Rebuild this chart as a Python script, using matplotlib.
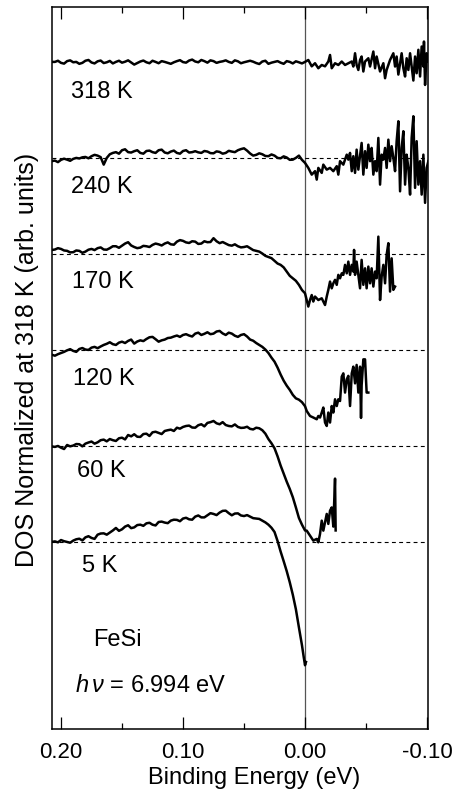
import matplotlib.pyplot as plt
import numpy as np

plt.rcParams['font.family'] = ['Liberation Sans', 'DejaVu Sans']
plt.rcParams['mathtext.fontset'] = 'custom'
plt.rcParams['mathtext.it'] = 'Liberation Sans:italic'
plt.rcParams['mathtext.rm'] = 'Liberation Sans'
plt.rcParams['axes.unicode_minus'] = False

# binding energy sampling (eV) for the smooth part of every spectrum
energy_left = [0.208, 0.205, 0.200, 0.195, 0.190, 0.185, 0.180, 0.175, 0.170, 0.165,
               0.160, 0.155, 0.150, 0.145, 0.140, 0.135, 0.130, 0.125, 0.120, 0.115,
               0.110, 0.105, 0.100, 0.095, 0.090, 0.085, 0.080, 0.075, 0.070, 0.065,
               0.060, 0.055, 0.050, 0.045, 0.040, 0.035, 0.030, 0.025, 0.020, 0.015,
               0.010, 0.005, 0.000]
energy_mid = [0.2025, 0.1975, 0.1925, 0.1875, 0.1825, 0.1775, 0.1725, 0.1675, 0.1625,
              0.1575, 0.1525, 0.1475, 0.1425, 0.1375, 0.1325, 0.1275, 0.1225, 0.1175,
              0.1125, 0.1075, 0.1025, 0.0975, 0.0925, 0.0875, 0.0825, 0.0775, 0.0725,
              0.0675, 0.0625, 0.0575, 0.0525, 0.0475, 0.0425, 0.0375, 0.0325, 0.0275,
              0.0225, 0.0175, 0.0125, 0.0075, 0.0025]

# DOS normalized at 318 K
dos_318_left = [1.000, 1.000, 0.995, 1.004, 0.998, 0.990, 1.006, 0.997, 1.003, 0.994,
                1.005, 1.000, 0.996, 1.008, 0.986, 1.002, 0.998, 1.006, 0.993, 1.000,
                0.990, 1.004, 0.999, 1.007, 1.002, 1.010, 0.996, 1.004, 1.000, 1.008,
                0.995, 1.003, 0.998, 1.006, 0.994, 1.002, 0.990, 1.000, 0.996, 1.004,
                0.992, 0.998, 1.000]
dos_318_mid = [1.006, 0.991, 1.008, 1.000, 0.995, 1.010, 0.992, 1.007, 0.998, 0.992,
               1.006, 1.001, 0.997, 0.994, 1.007, 0.993, 1.000, 1.004, 0.995, 0.998,
               1.009, 0.996, 1.012, 0.998, 1.004, 1.008, 0.995, 1.003, 1.000, 1.008,
               0.993, 1.002, 1.001, 0.989, 1.006, 0.996, 1.004, 0.990, 1.000, 1.003,
               0.992]
e_318_right = [-0.0027, -0.0055, -0.0082, -0.0109, -0.0137, -0.0164, -0.0191, -0.0205,
               -0.0219, -0.0246, -0.0273, -0.0301, -0.0328, -0.0355, -0.0383, -0.0396,
               -0.0410, -0.0423, -0.0437, -0.0451, -0.0464, -0.0478, -0.0492, -0.0519,
               -0.0533, -0.0560, -0.0574, -0.0587, -0.0615, -0.0642, -0.0656, -0.0669,
               -0.0697, -0.0724, -0.0738, -0.0751, -0.0765, -0.0779, -0.0792, -0.0806,
               -0.0820, -0.0833, -0.0847, -0.0861, -0.0888, -0.0902, -0.0915, -0.0929,
               -0.0943, -0.0956, -0.0970, -0.0975, -0.0984, -0.0997, -0.1011]
dos_318_right = [1.010, 0.977, 0.993, 0.967, 0.984, 0.977, 1.002, 1.036,
                 0.967, 0.993, 0.984, 1.002, 0.984, 0.993, 1.002, 0.976,
                 1.045, 0.984, 0.958, 1.010, 1.028, 0.950, 1.002, 1.019,
                 0.976, 1.054, 0.967, 1.028, 0.950, 0.993, 0.915, 0.958,
                 1.010, 1.045, 0.976, 1.028, 0.934, 0.993, 1.045, 0.967,
                 0.924, 1.019, 0.958, 1.045, 0.903, 1.028, 0.941, 1.063,
                 0.924, 1.080, 0.976, 1.106, 0.880, 1.045, 1.002]

dos_240_left = [0.983, 0.986, 0.990, 0.991, 0.995, 0.997, 1.005, 1.009, 1.012, 0.965,
                1.019, 1.030, 1.040, 1.030, 1.035, 1.026, 1.036, 1.030, 1.040, 1.028,
                1.033, 1.026, 1.036, 1.028, 1.035, 1.026, 1.033, 1.024, 1.031, 1.026,
                1.033, 1.040, 1.050, 1.023, 1.016, 1.019, 1.009, 1.012, 0.998, 1.002,
                0.991, 1.012, 0.974]
dos_240_mid = [0.978, 0.996, 0.985, 1.000, 1.003, 0.998, 1.016, 1.004, 1.000, 1.026,
               1.022, 1.045, 1.028, 1.040, 1.022, 1.038, 1.026, 1.043, 1.024, 1.038,
               1.022, 1.040, 1.030, 1.029, 1.036, 1.025, 1.034, 1.022, 1.037, 1.030,
               1.046, 1.038, 1.012, 1.024, 1.010, 1.018, 1.000, 1.008, 0.990, 1.000,
               0.990]
e_240_right = [-0.0027, -0.0055, -0.0082, -0.0096, -0.0109, -0.0137, -0.0150, -0.0178,
               -0.0205, -0.0232, -0.0260, -0.0273, -0.0287, -0.0314, -0.0342, -0.0355,
               -0.0369, -0.0383, -0.0396, -0.0410, -0.0423, -0.0437, -0.0451, -0.0464,
               -0.0478, -0.0492, -0.0505, -0.0519, -0.0533, -0.0546, -0.0560, -0.0574,
               -0.0587, -0.0601, -0.0615, -0.0628, -0.0642, -0.0656, -0.0669, -0.0683,
               -0.0697, -0.0710, -0.0724, -0.0738, -0.0751, -0.0765, -0.0779, -0.0792,
               -0.0806, -0.0820, -0.0833, -0.0847, -0.0861, -0.0874, -0.0888, -0.0902,
               -0.0915, -0.0929, -0.0943, -0.0956, -0.0970, -0.0984, -0.0997, -0.1011]
dos_240_right = [0.948, 0.913, 0.931, 0.887, 0.948, 0.922, 0.965, 0.939,
                 0.948, 0.931, 0.957, 0.913, 0.983, 0.965, 1.017, 0.991,
                 1.026, 0.931, 1.009, 0.922, 1.043, 0.939, 1.009, 1.078,
                 0.913, 1.035, 0.948, 1.069, 0.983, 1.052, 0.913, 0.983,
                 0.931, 1.104, 0.861, 1.017, 0.991, 1.052, 0.948, 1.095,
                 0.983, 1.061, 1.000, 0.931, 1.087, 1.191, 0.826, 1.052,
                 1.139, 0.861, 1.017, 0.948, 0.809, 1.104, 1.217, 0.844,
                 1.087, 0.861, 0.983, 0.809, 1.017, 0.766, 0.948, 0.983]

dos_170_left = [1.020, 1.023, 1.026, 1.016, 1.009, 1.016, 1.012, 1.026, 1.030, 1.023,
                1.030, 1.040, 1.043, 1.061, 1.036, 1.033, 1.040, 1.047, 1.050, 1.054,
                1.050, 1.064, 1.068, 1.057, 1.064, 1.054, 1.061, 1.082, 1.056, 1.054,
                1.043, 1.040, 1.036, 1.030, 1.016, 1.002, 0.984, 0.964, 0.943, 0.908,
                0.873, 0.839, 0.795]
dos_170_mid = [1.030, 1.018, 1.008, 1.018, 1.006, 1.022, 1.020, 1.034, 1.022, 1.040,
               1.032, 1.054, 1.044, 1.030, 1.042, 1.036, 1.054, 1.044, 1.060, 1.048,
               1.072, 1.060, 1.066, 1.052, 1.066, 1.062, 1.066, 1.062, 1.046, 1.050,
               1.034, 1.040, 1.020, 1.012, 0.990, 0.978, 0.950, 0.930, 0.886, 0.860,
               0.812]
e_170_right = [-0.0014, -0.0027, -0.0041, -0.0055, -0.0068, -0.0082, -0.0109, -0.0137,
               -0.0164, -0.0178, -0.0191, -0.0205, -0.0219, -0.0232, -0.0246, -0.0260,
               -0.0273, -0.0287, -0.0301, -0.0314, -0.0328, -0.0342, -0.0355, -0.0369,
               -0.0383, -0.0396, -0.0402, -0.0410, -0.0423, -0.0437, -0.0451, -0.0464,
               -0.0478, -0.0492, -0.0505, -0.0519, -0.0533, -0.0546, -0.0560, -0.0574,
               -0.0587, -0.0601, -0.0615, -0.0628, -0.0642, -0.0656, -0.0669, -0.0683,
               -0.0697, -0.0710, -0.0724, -0.0738]
dos_170_right = [0.760, 0.726, 0.760, 0.786, 0.752, 0.778, 0.760, 0.769,
                 0.734, 0.778, 0.813, 0.856, 0.821, 0.847, 0.865, 0.839,
                 0.891, 0.873, 0.899, 0.891, 0.943, 0.899, 0.960, 0.891,
                 0.943, 0.908, 1.021, 0.891, 0.960, 0.891, 0.821, 0.969,
                 0.839, 0.925, 0.821, 0.934, 0.847, 0.925, 0.830, 0.908,
                 0.873, 1.090, 0.760, 0.882, 0.943, 0.847, 0.995, 1.056,
                 0.804, 0.977, 0.813, 0.830]

dos_120_left = [0.976, 0.970, 0.984, 0.998, 0.995, 1.005, 1.002, 1.012, 1.009, 1.026,
                1.040, 1.026, 1.043, 1.047, 1.033, 1.050, 1.057, 1.068, 1.043, 1.054,
                1.064, 1.075, 1.078, 1.075, 1.085, 1.078, 1.092, 1.085, 1.099, 1.078,
                1.085, 1.068, 1.082, 1.054, 1.036, 1.016, 0.984, 0.939, 0.872, 0.814,
                0.766, 0.741, 0.707]
dos_120_mid = [0.978, 0.990, 1.004, 0.990, 1.010, 1.000, 1.016, 1.018, 1.032, 1.030,
               1.038, 1.036, 1.054, 1.044, 1.046, 1.066, 1.056, 1.050, 1.062, 1.070,
               1.068, 1.082, 1.070, 1.090, 1.084, 1.082, 1.096, 1.086, 1.090, 1.074,
               1.078, 1.070, 1.048, 1.026, 1.002, 0.960, 0.908, 0.840, 0.792, 0.748,
               0.728]
e_120_right = [-0.0014, -0.0041, -0.0068, -0.0096, -0.0109, -0.0123, -0.0137, -0.0150,
               -0.0164, -0.0178, -0.0191, -0.0205, -0.0219, -0.0232, -0.0246, -0.0260,
               -0.0273, -0.0287, -0.0301, -0.0314, -0.0328, -0.0342, -0.0355, -0.0369,
               -0.0383, -0.0396, -0.0410, -0.0423, -0.0437, -0.0451, -0.0459, -0.0464,
               -0.0478, -0.0492, -0.0505, -0.0519]
dos_120_right = [0.682, 0.656, 0.648, 0.639, 0.656, 0.648, 0.674, 0.700,
                 0.622, 0.604, 0.674, 0.622, 0.708, 0.674, 0.743, 0.708,
                 0.743, 0.734, 0.861, 0.878, 0.778, 0.847, 0.865, 0.708,
                 0.878, 0.913, 0.826, 0.922, 0.778, 0.913, 0.646, 0.816,
                 0.951, 0.951, 0.778, 0.778]

dos_60_left = [0.998, 0.995, 0.991, 1.005, 1.002, 1.009, 1.012, 1.023, 1.019, 1.033,
               1.036, 1.026, 1.043, 1.057, 1.061, 1.047, 1.064, 1.071, 1.068, 1.078,
               1.085, 1.095, 1.099, 1.106, 1.095, 1.113, 1.120, 1.130, 1.113, 1.109,
               1.102, 1.099, 1.095, 1.089, 1.095, 1.082, 1.036, 0.988, 0.898, 0.814,
               0.733, 0.625, 0.560]
dos_60_mid = [1.000, 0.984, 0.998, 1.010, 0.998, 1.018, 1.012, 1.030, 1.024, 1.030,
              1.040, 1.034, 1.050, 1.048, 1.062, 1.052, 1.074, 1.062, 1.082, 1.078,
              1.090, 1.104, 1.096, 1.108, 1.102, 1.124, 1.118, 1.124, 1.104, 1.112,
              1.094, 1.100, 1.086, 1.092, 1.064, 1.014, 0.946, 0.856, 0.776, 0.680,
              0.590]
e_60_right = [-0.0014, -0.0041, -0.0068, -0.0096, -0.0109, -0.0123, -0.0137, -0.0150,
              -0.0178, -0.0191, -0.0205, -0.0219, -0.0232, -0.0246, -0.0251]
dos_60_right = [0.559, 0.533, 0.507, 0.516, 0.498, 0.542, 0.611, 0.559,
                0.646, 0.594, 0.663, 0.680, 0.580, 0.830, 0.560]

dos_5_left = [1.000, 1.003, 1.010, 1.000, 1.007, 1.017, 1.024, 1.021, 1.038, 1.045,
              1.049, 1.073, 1.066, 1.087, 1.076, 1.090, 1.097, 1.090, 1.104, 1.101,
              1.111, 1.115, 1.122, 1.118, 1.132, 1.128, 1.139, 1.146, 1.153, 1.163,
              1.139, 1.149, 1.135, 1.132, 1.122, 1.111, 1.090, 1.052, 0.950, 0.848,
              0.725, 0.555, 0.358]
dos_5_mid = [0.998, 1.004, 0.996, 1.014, 1.008, 1.030, 1.016, 1.044, 1.038, 1.060,
             1.058, 1.080, 1.072, 1.088, 1.084, 1.100, 1.086, 1.106, 1.098, 1.116,
             1.108, 1.126, 1.116, 1.138, 1.128, 1.150, 1.140, 1.162, 1.150, 1.148,
             1.138, 1.140, 1.124, 1.120, 1.102, 1.074, 1.005, 0.900, 0.790, 0.650,
             0.462]
e_5_right = [0.001, -0.0008]
dos_5_right = [0.398, 0.375]

labels = ['318 K', '240 K', '170 K', '120 K', '60 K', '5 K']
offsets = [2.5, 2.0, 1.5, 1.0, 0.5, 0.0]
spectra = [(dos_318_left, dos_318_mid, e_318_right, dos_318_right),
           (dos_240_left, dos_240_mid, e_240_right, dos_240_right),
           (dos_170_left, dos_170_mid, e_170_right, dos_170_right),
           (dos_120_left, dos_120_mid, e_120_right, dos_120_right),
           (dos_60_left, dos_60_mid, e_60_right, dos_60_right),
           (dos_5_left, dos_5_mid, e_5_right, dos_5_right)]
label_pos = [(0.1918, 3.341), (0.1920, 2.849), (0.1912, 2.352),
             (0.1904, 1.849), (0.1871, 1.367), (0.1830, 0.873)]

fig = plt.figure(figsize=(4.56, 7.93), dpi=100)
ax = fig.add_axes([0.114, 0.0807, 0.8246, 0.9105])

ax.axvline(0.0, color='#555555', lw=0.9, zorder=1)

for (left, mid, e_r, d_r), off, lab, pos in zip(spectra, offsets, labels, label_pos):
    e = np.concatenate([energy_left, energy_mid, e_r])
    d = np.concatenate([left, mid, d_r])
    order = np.argsort(-e)
    if lab != '318 K':
        ax.axhline(1.0 + off, color='black', lw=0.8, dashes=(3.5, 3), zorder=1)
    ax.plot(e[order], d[order] + off, color='black', lw=1.8, zorder=3)
    ax.text(pos[0], pos[1], lab, fontsize=17, ha='left', va='center')

ax.text(0.174, 0.490, 'FeSi', fontsize=17, ha='left', va='center')
ax.text(0.1885, 0.250, r'$h\,\nu$ = 6.994 eV', fontsize=17, ha='left', va='center')

ax.set_xlim(0.2074, -0.1008)
ax.set_ylim(0.026, 3.786)
ax.set_xticks([0.20, 0.10, 0.00, -0.10])
ax.set_xticklabels(['0.20', '0.10', '0.00', '-0.10'])
ax.set_xticks([0.15, 0.05, -0.05], minor=True)
ax.set_yticks([])
ax.tick_params(axis='x', which='both', direction='in', top=True, bottom=True,
               labelsize=16, pad=9)
ax.tick_params(axis='x', which='major', length=8.5, width=0.9)
ax.tick_params(axis='x', which='minor', length=4.3, width=0.9)
for s in ax.spines.values():
    s.set_linewidth(1.1)

ax.set_xlabel('Binding Energy (eV)', fontsize=17, va='center')
ax.xaxis.set_label_coords(0.537, -0.068)
ax.set_ylabel('DOS Normalized at 318 K (arb. units)', fontsize=18, va='center')
ax.yaxis.set_label_coords(-0.066, 0.511)

fig.savefig('out.png', dpi=100)
